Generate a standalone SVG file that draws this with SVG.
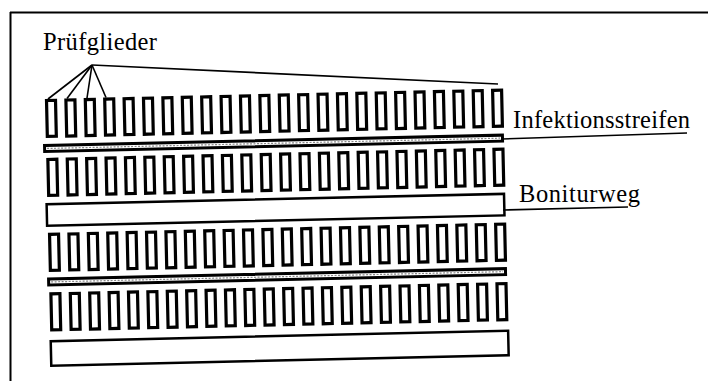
<svg xmlns="http://www.w3.org/2000/svg" xmlns:xlink="http://www.w3.org/1999/xlink" width="708" height="381" viewBox="0 0 708 381">
<style>
.frame{stroke:#000;stroke-width:2;fill:none}
.plot{fill:#fff;stroke:#000;stroke-width:3.2}
.strip{fill:#fff;stroke:#000;stroke-width:3}
.dots{stroke:#888;stroke-width:1.2;stroke-dasharray:2 1.5;fill:none}
.path{fill:#fff;stroke:#000;stroke-width:2.5}
.lead{stroke:#000;stroke-width:1.6;fill:none}
.lbl{font-family:"Liberation Serif","Times New Roman",serif;fill:#000}
</style>
<defs>
<g id="plotrow">
<rect class="plot" x="46.5" y="0" width="9" height="36"/>
<rect class="plot" x="65.9" y="0" width="9" height="36"/>
<rect class="plot" x="85.3" y="0" width="9" height="36"/>
<rect class="plot" x="104.7" y="0" width="9" height="36"/>
<rect class="plot" x="124.1" y="0" width="9" height="36"/>
<rect class="plot" x="143.5" y="0" width="9" height="36"/>
<rect class="plot" x="162.9" y="0" width="9" height="36"/>
<rect class="plot" x="182.3" y="0" width="9" height="36"/>
<rect class="plot" x="201.7" y="0" width="9" height="36"/>
<rect class="plot" x="221.1" y="0" width="9" height="36"/>
<rect class="plot" x="240.5" y="0" width="9" height="36"/>
<rect class="plot" x="259.9" y="0" width="9" height="36"/>
<rect class="plot" x="279.3" y="0" width="9" height="36"/>
<rect class="plot" x="298.7" y="0" width="9" height="36"/>
<rect class="plot" x="318.1" y="0" width="9" height="36"/>
<rect class="plot" x="337.5" y="0" width="9" height="36"/>
<rect class="plot" x="356.9" y="0" width="9" height="36"/>
<rect class="plot" x="376.3" y="0" width="9" height="36"/>
<rect class="plot" x="395.7" y="0" width="9" height="36"/>
<rect class="plot" x="415.1" y="0" width="9" height="36"/>
<rect class="plot" x="434.5" y="0" width="9" height="36"/>
<rect class="plot" x="453.9" y="0" width="9" height="36"/>
<rect class="plot" x="473.3" y="0" width="9" height="36"/>
<rect class="plot" x="492.7" y="0" width="9" height="36"/>
</g>
</defs>
<rect width="708" height="381" fill="#fff"/>
<g id="frame">
<line class="frame" x1="10" y1="12.5" x2="708" y2="12.5"/>
<line class="frame" x1="10.5" y1="12" x2="10.5" y2="381"/>
</g>
<g id="field" transform="rotate(-1.3 45 100)">
<g id="row1"><use xlink:href="#plotrow" href="#plotrow" y="100.5"/></g>
<g id="strip1"><rect class="strip" x="43.5" y="145.5" width="458" height="6"/><line class="dots" x1="46" y1="148.5" x2="499" y2="148.5"/></g>
<g id="row2"><use xlink:href="#plotrow" href="#plotrow" y="159.5"/></g>
<g id="path1"><rect class="path" x="44.25" y="204.25" width="457.5" height="21.5"/></g>
<g id="row3"><use xlink:href="#plotrow" href="#plotrow" y="234.5"/></g>
<g id="strip2"><rect class="strip" x="44.5" y="279" width="457" height="6"/><line class="dots" x1="47" y1="282" x2="499" y2="282"/></g>
<g id="row4"><use xlink:href="#plotrow" href="#plotrow" y="294"/></g>
<g id="path2"><rect class="path" x="45.25" y="341.25" width="457.5" height="24.5"/></g>
</g>
<g id="connectors">
<line class="lead" x1="92" y1="65" x2="48" y2="99"/>
<line class="lead" x1="92" y1="65" x2="67" y2="98.5"/>
<line class="lead" x1="92" y1="65" x2="87" y2="98"/>
<line class="lead" x1="92" y1="65" x2="106" y2="97.5"/>
<line class="lead" x1="92" y1="65" x2="498" y2="84"/>
<line class="lead" x1="502" y1="139" x2="687" y2="133"/>
<line class="lead" x1="503" y1="210" x2="628" y2="207"/>
</g>
<g id="labels">
<text id="lbl-pruef" class="lbl" x="43" y="50" font-size="24.5" textLength="114">Prüfglieder</text>
<text id="lbl-infekt" class="lbl" x="513" y="128" font-size="24.5" textLength="177">Infektionsstreifen</text>
<text id="lbl-bonit" class="lbl" x="519" y="202" font-size="24.5" textLength="121">Boniturweg</text>
</g>
</svg>
